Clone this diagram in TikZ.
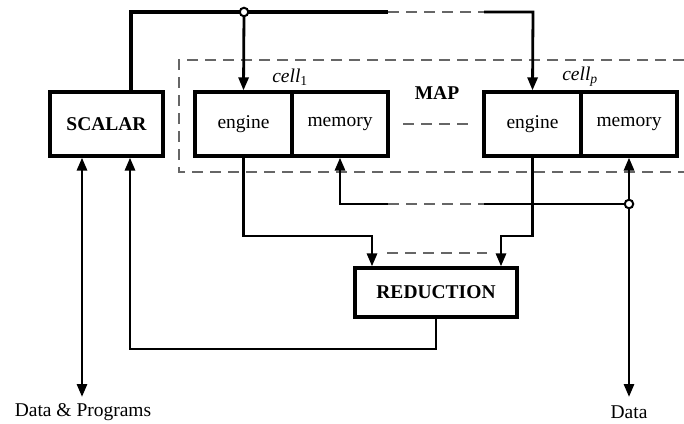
\documentclass[tikz,border=0pt]{standalone}
\usepackage{fontspec}
\setmainfont{Liberation Serif}
\usetikzlibrary{arrows.meta,calc}

\tikzset{
  unit/.style={draw, line width=3.2pt, inner sep=0pt, minimum height=64pt, font=\fontsize{19.5}{23}\selectfont},
  wire/.style={line width=2.8pt},
  tip/.tip={Triangle[length=13pt,width=10pt]},
  arr/.style={wire, -tip},
  biarr/.style={wire, tip-tip},
  gap/.style={line width=1.4pt, black!60, dash pattern=on 11pt off 7pt},
  joint/.style={circle, draw, fill=white, line width=2pt, inner sep=0pt, minimum size=8.5pt},
  lbl/.style={font=\fontsize{19.5}{23}\selectfont, inner sep=0pt}
}

\begin{document}
\begin{tikzpicture}[x=1pt, y=-1pt]
\useasboundingbox (0,0) rectangle (684,423);

% MAP region (open on the right)
\draw[gap] (684,60) -- (179,60) -- (179,172) -- (684,172);
\node[lbl, font=\fontsize{19.5}{23}\selectfont\bfseries] (map) at (437,93) {MAP};

% processing units
\node[unit, minimum width=113pt, font=\fontsize{19.5}{23}\selectfont\bfseries] (scalar) at (106.5,124) {SCALAR};
\node[unit, minimum width=97pt] (eng1) at (243.5,124) {engine};
\node[unit, minimum width=96pt] (mem1) at (340,124) {memory};
\node[unit, minimum width=97pt] (engp) at (532.5,124) {engine};
\node[unit, minimum width=96pt] (memp) at (629,124) {memory};
\node[unit, minimum width=162pt, minimum height=49pt, font=\fontsize{19.5}{23}\selectfont\bfseries] (red) at (436,292.5) {REDUCTION};

\node[lbl] (c1) at (290,77) {\textit{cell}\textsubscript{1}};
\node[lbl] (cp) at (580,77) {\textit{cell}\textsubscript{\textit{p}}};

\draw[gap] (403,124) -- (468,124);

% broadcast bus from SCALAR to the cell engines
\coordinate (t0) at (131,12);
\coordinate (tj) at (244,12);
\coordinate (tg1) at (388,12);
\coordinate (tg2) at (484,12);
\coordinate (tp) at (533,12);
\draw[wire, line width=3.2pt] (t0 |- scalar.north) -- (t0) -- (tg1);
\draw[gap] (tg1) -- (tg2);
\draw[arr] (tg2) -- (tp) -- (engp.north);
\draw[arr] (tj) -- (eng1.north);
\node[joint] (jt) at (tj) {};

% data bus into the cell memories
\coordinate (b1) at (388,204);
\coordinate (b2) at (484,204);
\coordinate (bm) at (mem1.south |- b1);
\node[joint] (jb) at (629,204) {};
\draw[arr] (b1) -- (bm) -- (mem1.south);
\draw[gap] (b1) -- (b2);
\draw[wire] (b2) -- (jb.west);
\draw[arr] (jb.north) -- (memp.south);
\coordinate (dend) at (629,397);
\draw[arr] (jb.south) -- (dend);
\node[lbl] (data) at (629,412) {Data};

% engines to REDUCTION
\coordinate (r1) at (372,236);
\coordinate (r2) at (501,236);
\draw[arr] (eng1.south) |- (r1) -- (r1 |- red.north);
\draw[arr] (engp.south) |- (r2) -- (r2 |- red.north);
\draw[gap] (387,253) -- (487,253);

% REDUCTION result back to SCALAR
\coordinate (rb) at (130,349);
\draw[arr] (red.south) |- (rb) -- (rb |- scalar.south);

% external I/O of SCALAR
\coordinate (io) at (82,397);
\draw[biarr] (io |- scalar.south) -- (io);
\node[lbl] (dp) at (83,412) {Data \& Programs};
\end{tikzpicture}
\end{document}
